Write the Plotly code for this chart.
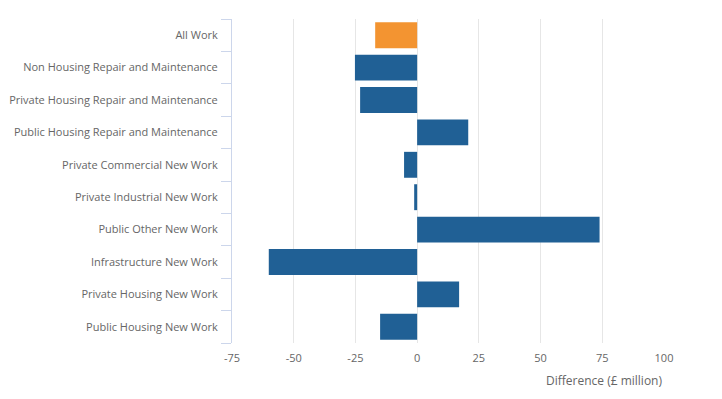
import plotly.graph_objects as go

categories = [
    "All Work",
    "Non Housing Repair and Maintenance",
    "Private Housing Repair and Maintenance",
    "Public Housing Repair and Maintenance",
    "Private Commercial New Work",
    "Private Industrial New Work",
    "Public Other New Work",
    "Infrastructure New Work",
    "Private Housing New Work",
    "Public Housing New Work",
]
values = [-17.0, -25.2, -23.1, 20.7, -5.3, -1.2, 73.9, -60.1, 17.0, -15.0]
bar_colors = ["#F39431"] + ["#206095"] * 9
x_ticks = [-75, -50, -25, 0, 25, 50, 75, 100]
x_title = "Difference (£ million)"

fig = go.Figure(
    go.Bar(
        x=values,
        y=categories,
        orientation="h",
        marker=dict(color=bar_colors, line=dict(width=0)),
        width=0.8,
        hoverinfo="x+y",
    )
)

font = "Open Sans, sans-serif"
# page body has an 8px default margin; figure sized/margined to compensate
fig.update_layout(
    width=706,
    height=383,
    margin=dict(l=224, r=50, t=11, b=48),
    paper_bgcolor="white",
    plot_bgcolor="white",
    showlegend=False,
    font=dict(family=font, size=11, color="#666666"),
    xaxis=dict(
        range=[-75, 100],
        tickvals=x_ticks,
        ticktext=[str(v) for v in x_ticks],
        showgrid=True,
        gridcolor="#e6e6e6",
        gridwidth=1,
        zeroline=False,
        showline=False,
        ticks="outside",
        ticklen=5,
        tickcolor="rgba(0,0,0,0)",
        automargin=False,
        tickfont=dict(family=font, size=11, color="#666666"),
    ),
    yaxis=dict(
        categoryorder="array",
        categoryarray=categories[::-1],
        autorange=False,
        range=[-0.5, len(categories) - 0.5],
        showgrid=False,
        zeroline=False,
        showline=True,
        linecolor="#ccd6eb",
        linewidth=1,
        ticks="outside",
        tickson="boundaries",
        ticklen=10,
        tickcolor="#ccd6eb",
        ticklabelstandoff=11,
        automargin=False,
        tickfont=dict(family=font, size=11, color="#666666"),
    ),
    annotations=[
        dict(
            text=x_title,
            xref="paper",
            yref="paper",
            x=1,
            y=0,
            xanchor="right",
            yanchor="middle",
            yshift=-37,
            showarrow=False,
            font=dict(family=font, size=12, color="#666666"),
        )
    ],
)

fig.write_html("out.html")
